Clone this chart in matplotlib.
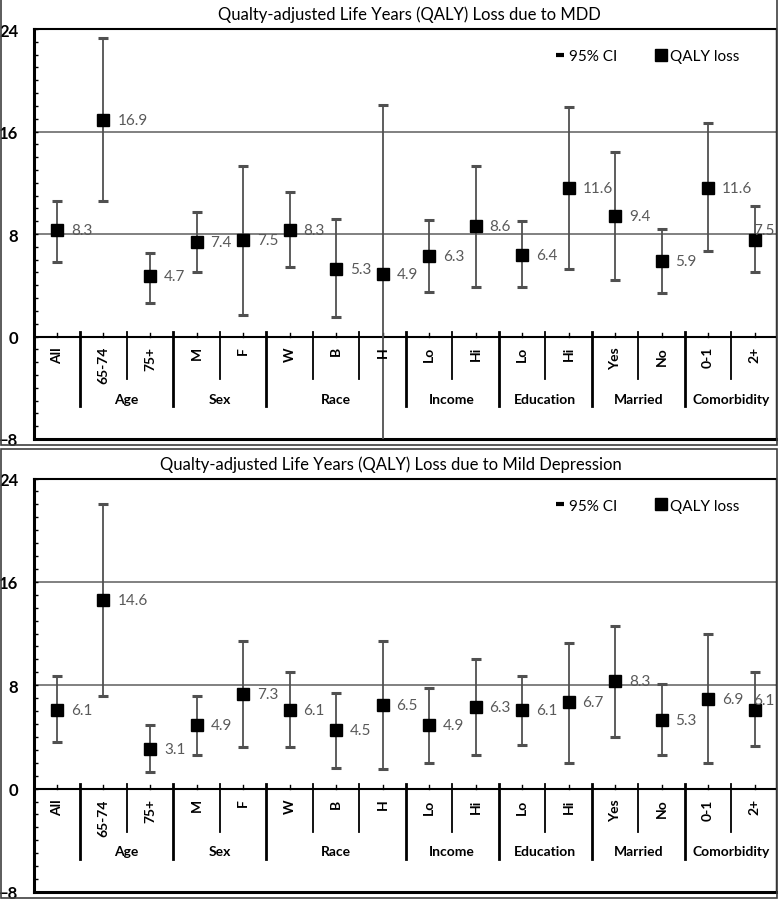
import numpy as np
import matplotlib
matplotlib.use("Agg")
import matplotlib.pyplot as plt
from matplotlib.lines import Line2D
from matplotlib.patches import Rectangle

plt.rcParams['font.family'] = ['Lato', 'DejaVu Sans']

# categories and groups
cats = ['All', '65-74', '75+', 'M', 'F', 'W', 'B', 'H',
        'Lo', 'Hi', 'Lo', 'Hi', 'Yes', 'No', '0-1', '2+']
groups = [('Age', 1, 2), ('Sex', 3, 4), ('Race', 5, 7), ('Income', 8, 9),
          ('Education', 10, 11), ('Married', 12, 13), ('Comorbidity', 14, 15)]

# QALY loss due to MDD
mdd_val = [8.3, 16.9, 4.7, 7.4, 7.5, 8.3, 5.3, 4.9, 6.3, 8.6, 6.4, 11.6, 9.4, 5.9, 11.6, 7.5]
mdd_lo = [5.8, 10.6, 2.6, 5.0, 1.7, 5.4, 1.5, -9.0, 3.5, 3.9, 3.9, 5.3, 4.4, 3.4, 6.7, 5.0]
mdd_hi = [10.6, 23.3, 6.5, 9.7, 13.3, 11.3, 9.2, 18.1, 9.1, 13.3, 9.0, 17.9, 14.4, 8.4, 16.7, 10.2]

# QALY loss due to mild depression
mild_val = [6.1, 14.6, 3.1, 4.9, 7.3, 6.1, 4.5, 6.5, 4.9, 6.3, 6.1, 6.7, 8.3, 5.3, 6.9, 6.1]
mild_lo = [3.6, 7.2, 1.3, 2.6, 3.2, 3.2, 1.6, 1.5, 2.0, 2.6, 3.4, 2.0, 4.0, 2.6, 2.0, 3.3]
mild_hi = [8.7, 22.0, 4.9, 7.2, 11.4, 9.0, 7.4, 11.4, 7.8, 10.0, 8.7, 11.3, 12.6, 8.1, 12.0, 9.0]

W, H = 778, 903
fig = plt.figure(figsize=(W / 100, H / 100), dpi=100)


def px_rect(x0, y0, x1, y1):
    return [x0 / W, 1 - y1 / H, (x1 - x0) / W, (y1 - y0) / H]


def panel(top, bottom, title, title_x, val, lo, hi):
    # outer box + title
    fig.patches.append(Rectangle((0.5 / W, 1 - (bottom + 6) / H), 776 / W, (bottom + 6 - top + 30) / H,
                                 transform=fig.transFigure, fill=False, ec='#404040', lw=1.2))
    fig.text(title_x / W, 1 - (top - 15) / H, title, ha='center', va='center', fontsize=12)

    ax = fig.add_axes(px_rect(33.5, top, 776, bottom))
    x = np.arange(len(cats))
    val = np.array(val)
    err = [val - np.array(lo), np.array(hi) - val]
    eb = ax.errorbar(x, val, yerr=err, fmt='none', ecolor='#505050', elinewidth=1.3,
                     capsize=3.5, capthick=2.2, zorder=3)
    for cl in eb[1]:
        cl.set_color('black')
    ax.plot(x, val, 's', color='black', markersize=8.5, linestyle='None', zorder=4)
    for i, (xi, v) in enumerate(zip(x, val)):
        # the last label is pushed up and left to stay inside the plot
        off = (14, 0) if i < len(val) - 1 else (-1, 10)
        ax.annotate(f'{v:.1f}', (xi, v), xytext=off, textcoords='offset pixels',
                    ha='left', va='center', fontsize=11, color='#595959', zorder=5)

    ax.set_xlim(-0.505, 15.46)
    ax.set_ylim(-8, 24)
    ax.set_yticks([-8, 0, 8, 16, 24])
    ax.set_yticks(np.arange(-8, 25, 1), minor=True)
    ax.tick_params(axis='y', which='both', direction='in', length=3, width=1, pad=11,
                   labelsize=12)
    for t in ax.get_yticklabels():
        t.set_fontweight('bold')
    ax.set_xticks([])
    for y in (8, 16):
        ax.axhline(y, color='#808080', lw=1.4, zorder=1)
    ax.axhline(0, color='black', lw=1.5, zorder=2)
    for s in ('left', 'bottom'):
        ax.spines[s].set_linewidth(2.2)
    ax.spines['top'].set_linewidth(1.5)
    ax.spines['right'].set_linewidth(1.0)

    # category axis
    for xi, c in zip(x, cats):
        ax.text(xi, -0.75, c, rotation=90, ha='center', va='top', fontsize=10,
                fontweight='bold')
        ax.plot([xi, xi], [0, 0.3], color='black', lw=1)
    group_edges = [0.5] + [g[2] + 0.5 for g in groups[:-1]]
    for b in np.arange(0.5, 15.5, 1):
        if b in group_edges:
            ax.plot([b, b], [0.35, -5.45], color='black', lw=2)
        else:
            ax.plot([b, b], [0.35, -3.35], color='black', lw=1.3)
    for name, a, b in groups:
        ax.text((a + b) / 2, -4.85, name, ha='center', va='center', fontsize=10,
                fontweight='bold')

    handles = [Line2D([], [], color='black', marker='_', linestyle='None', markersize=6,
                      markeredgewidth=3),
               Line2D([], [], color='black', marker='s', linestyle='None', markersize=9)]
    ax.legend(handles, ['95% CI', 'QALY loss'], ncol=2, frameon=False, loc='center',
              bbox_to_anchor=(0.8276, 0.934), fontsize=11, handlelength=0.5,
              handletextpad=0.35, columnspacing=2.6)
    return ax


panel(30, 440, 'Qualty-adjusted Life Years (QALY) Loss due to MDD', 409.5,
      mdd_val, mdd_lo, mdd_hi)
panel(479.5, 893, 'Qualty-adjusted Life Years (QALY) Loss due to Mild Depression', 390.5,
      mild_val, mild_lo, mild_hi)

fig.savefig('out.png', dpi=100)
